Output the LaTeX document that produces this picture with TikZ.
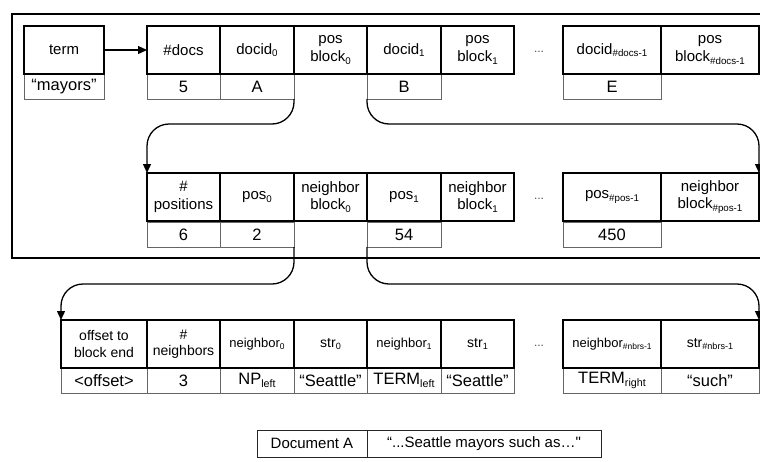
\documentclass[tikz,border=0pt]{standalone}
\usepackage{fontspec}
\setmainfont{Liberation Sans}[Ligatures=TeXOff]
\usetikzlibrary{arrows.meta}

% small lowered index, a bit smaller than \textsubscript
\newcommand{\idx}[1]{\raisebox{-0.18em}{\fontsize{0.65\dimexpr\csname f@size\endcsname pt\relax}{1em}\selectfont #1}}

\begin{document}
\begin{tikzpicture}[x=1pt,y=-1pt,
  hd/.style={draw=black, line width=1.3pt, minimum width=#1, minimum height=48pt,
    inner sep=0pt, outer sep=0pt, anchor=north west, align=center,
    font=\fontsize{15}{17.5}\selectfont},
  hdsmall/.style={hd=#1, font=\fontsize{13}{15}\selectfont},
  hdmid/.style={hd=#1, font=\fontsize{14}{16.5}\selectfont},
  val/.style={draw=black!60, line width=0.9pt, minimum width=#1, minimum height=25pt,
    inner sep=0pt, outer sep=0pt, anchor=north west,
    font=\fontsize{16.5}{18}\selectfont},
  doccell/.style={draw=black!85, line width=1pt, minimum width=#1, minimum height=27pt,
    inner sep=0pt, outer sep=0pt, anchor=north west,
    font=\fontsize{15}{17}\selectfont},
  dots/.style={font=\fontsize{12}{12}\selectfont, text=black!70},
  conn/.style={draw=black, line width=1.3pt, rounded corners=22pt,
    -{Triangle[length=9pt,width=8pt]}},
  frame/.style={draw=black, line width=2.8pt}]

\useasboundingbox (0,0) rectangle (760,461);

% ---------- term dictionary / document list ----------
\node[val=80]  (v1t) at (24,74)  {“mayors”};
\node[val=73]  (v1a) at (147,74) {5};
\node[val=74]  (v1b) at (220,74) {A};
\node[val=74]  (v1d) at (367,74) {B};
\node[val=98]  (v1f) at (563,74) {E};

\node[hd=80] (h1t) at (24,26)  {term};
\node[hd=73] (h1a) at (147,26) {\#docs};
\node[hd=74] (h1b) at (220,26) {docid\idx{0}};
\node[hd=73] (h1c) at (294,26) {pos\\block\idx{0}};
\node[hd=74] (h1d) at (367,26) {docid\idx{1}};
\node[hd=73] (h1e) at (441,26) {pos\\block\idx{1}};
\node[dots]  (e1)  at (539,52) {...};
\node[hd=98] (h1f) at (563,26) {docid\idx{\#docs-1}};
\node[hd=98] (h1g) at (661,26) {pos\\block\idx{\#docs-1}};

% ---------- position block ----------
\node[val=73]  (v2a) at (147,222) {6};
\node[val=74]  (v2b) at (220,222) {2};
\node[val=74]  (v2d) at (367,222) {54};
\node[val=98]  (v2f) at (563,222) {450};

\node[hd=73] (h2a) at (147,173) {\#\\positions};
\node[hd=74] (h2b) at (220,173) {pos\idx{0}};
\node[hd=73] (h2c) at (294,173) {neighbor\\block\idx{0}};
\node[hd=74] (h2d) at (367,173) {pos\idx{1}};
\node[hd=73] (h2e) at (441,173) {neighbor\\block\idx{1}};
\node[dots]  (e2)  at (539,199) {...};
\node[hd=98] (h2f) at (563,173) {pos\idx{\#pos-1}};
\node[hd=98] (h2g) at (661,173) {neighbor\\block\idx{\#pos-1}};

% ---------- neighbor block ----------
\node[val=86]  (v3o) at (61,368)  {<offset>};
\node[val=73]  (v3a) at (147,368) {3};
\node[val=74]  (v3b) at (220,368) {NP\idx{left}};
\node[val=73]  (v3c) at (294,368) {“Seattle”};
\node[val=74]  (v3d) at (367,368) {TERM\idx{left}};
\node[val=73]  (v3e) at (441,368) {“Seattle”};
\node[val=98]  (v3f) at (563,368) {TERM\idx{right}};
\node[val=98]  (v3g) at (661,368) {“such”};

\node[hdmid=86]   (h3o) at (61,320)  {offset to\\block end};
\node[hdmid=73]   (h3a) at (147,320) {\#\\neighbors};
\node[hdsmall=74] (h3b) at (220,320) {neighbor\idx{0}};
\node[hdmid=73]   (h3c) at (294,320) {str\idx{0}};
\node[hdsmall=74] (h3d) at (367,320) {neighbor\idx{1}};
\node[hdmid=73]   (h3e) at (441,320) {str\idx{1}};
\node[dots]       (e3)  at (539,346) {...};
\node[hdsmall=98] (h3f) at (563,320) {neighbor\idx{\#nbrs-1}};
\node[hdmid=98]   (h3g) at (661,320) {str\idx{\#nbrs-1}};

% ---------- source document ----------
\node[doccell=110] (docA)  at (257,430) {Document A};
\node[doccell=234] (docTx) at (367,430) {“...Seattle mayors such as…"};

% ---------- pointers ----------
\draw[conn] (h1t.east) -- (h1a.west);
\draw[conn] (v1b.south east) -- ([yshift=-25pt]v1b.south east) -| (h2a.north west);
\draw[conn] (v1d.south west) -- ([yshift=-25pt]v1d.south west) -| (h2g.north east);
\draw[conn] (v2b.south east) -- ([yshift=-37pt]v2b.south east) -| (h3o.north west);
\draw[conn] (v2d.south west) -- ([yshift=-37pt]v2d.south west) -| (h3g.north east);

% ---------- index boundary ----------
\draw[frame] (12,14) rectangle (775,258);
\end{tikzpicture}
\end{document}
